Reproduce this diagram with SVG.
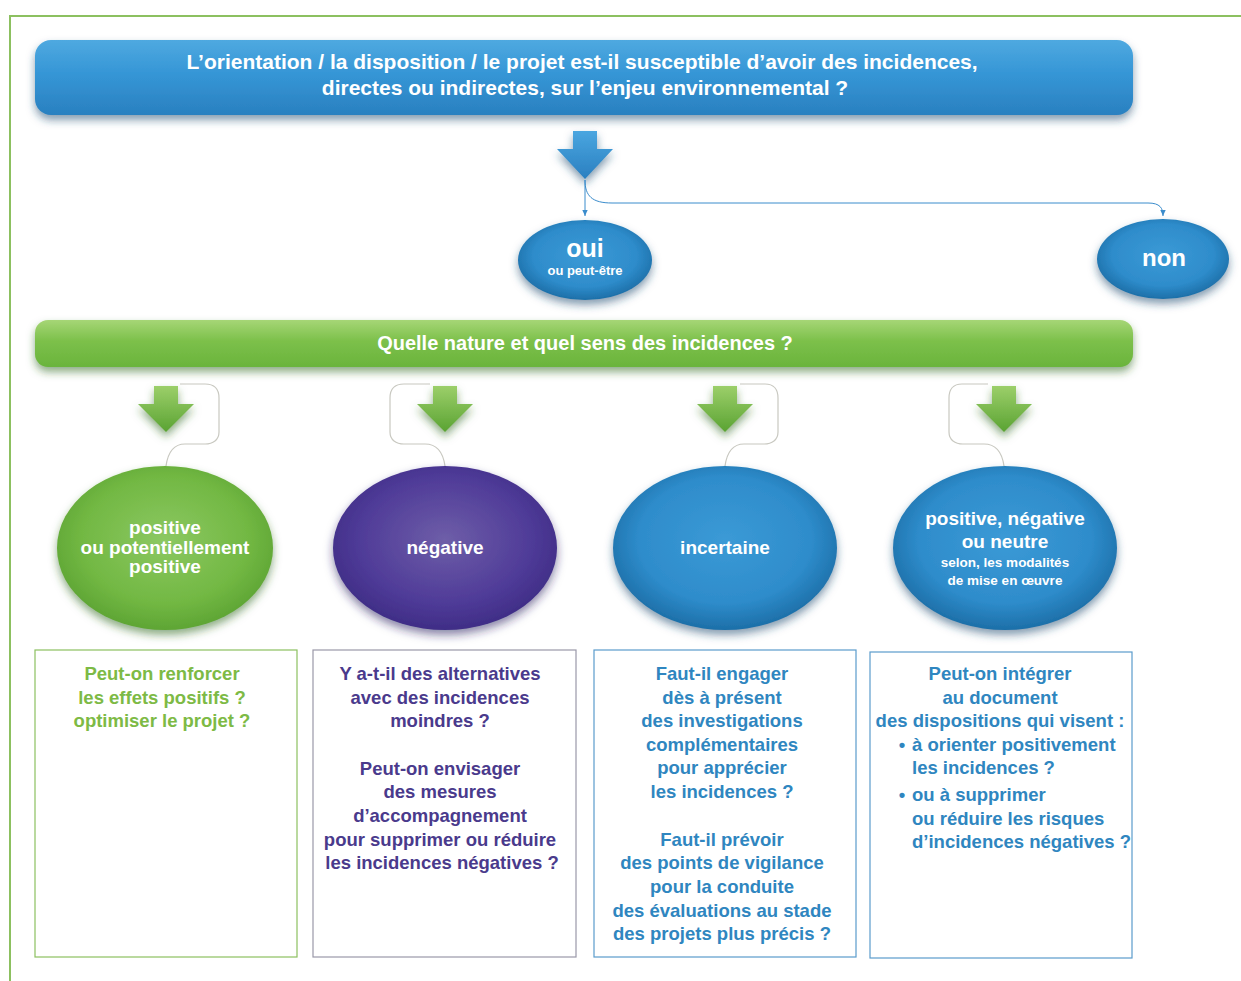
<svg xmlns="http://www.w3.org/2000/svg" width="1241" height="981" viewBox="0 0 1241 981">
<defs>
<style>
.t{font-family:"Liberation Sans Narrow","Liberation Sans",Arial,sans-serif;font-weight:bold;text-anchor:middle}
.w{fill:#ffffff}
.q{font-size:18.5px}
.g{fill:#7dba45}
.p{fill:#4a3a8c}
.b{fill:#2f86c0}
.con{fill:none;stroke:#c8c8c0;stroke-width:1.2}
.bc{fill:none;stroke:#3a8ccc;stroke-width:1}
</style>
<linearGradient id="blueBar" x1="0" y1="0" x2="0" y2="1">
<stop offset="0" stop-color="#4fa9e0"/><stop offset="0.45" stop-color="#3596d6"/><stop offset="1" stop-color="#2a80c0"/>
</linearGradient>
<linearGradient id="greenBar" x1="0" y1="0" x2="0" y2="1">
<stop offset="0" stop-color="#a6d676"/><stop offset="0.45" stop-color="#7cc04a"/><stop offset="1" stop-color="#6ab43c"/>
</linearGradient>
<radialGradient id="gBlue" cx="0.5" cy="0.45" r="0.55">
<stop offset="0" stop-color="#3b9ad6"/><stop offset="0.7" stop-color="#2e8ccb"/><stop offset="1" stop-color="#1d6fa8"/>
</radialGradient>
<radialGradient id="gGreen" cx="0.5" cy="0.45" r="0.55">
<stop offset="0" stop-color="#8cc862"/><stop offset="0.7" stop-color="#72b843"/><stop offset="1" stop-color="#5ea534"/>
</radialGradient>
<radialGradient id="gPurple" cx="0.5" cy="0.45" r="0.55">
<stop offset="0" stop-color="#6e5ea8"/><stop offset="0.7" stop-color="#4f3b98"/><stop offset="1" stop-color="#3f2d86"/>
</radialGradient>
<linearGradient id="gArrow" x1="0" y1="0" x2="0" y2="1">
<stop offset="0" stop-color="#9ccf6a"/><stop offset="1" stop-color="#5aa332"/>
</linearGradient>
<linearGradient id="bArrow" x1="0" y1="0" x2="0" y2="1">
<stop offset="0" stop-color="#4aa6e0"/><stop offset="1" stop-color="#2a7fc0"/>
</linearGradient>
<filter id="sh" x="-20%" y="-20%" width="140%" height="160%">
<feDropShadow dx="0" dy="5" stdDeviation="4" flood-color="#1a4d70" flood-opacity="0.55"/>
</filter>
<filter id="shg" x="-20%" y="-20%" width="140%" height="160%">
<feDropShadow dx="0" dy="5" stdDeviation="4" flood-color="#2f6a1a" flood-opacity="0.55"/>
</filter>
<filter id="shp" x="-20%" y="-20%" width="140%" height="160%">
<feDropShadow dx="0" dy="5" stdDeviation="5" flood-color="#2a1f60" flood-opacity="0.55"/>
</filter>
<marker id="ah" viewBox="0 0 10 10" refX="9" refY="5" markerWidth="7" markerHeight="7" orient="auto">
<path d="M0,1 L9,5 L0,9 z" fill="#3a8ccc"/>
</marker>
<path id="garrow" d="M-12,0 h24 v18 h16 l-28,28 l-28,-28 h16 z"/>
</defs>
<rect width="1241" height="981" fill="#ffffff"/>
<path d="M10,981 V16 H1241" fill="none" stroke="#8cc060" stroke-width="2"/>

<g id="top-question">
<rect x="35" y="40" width="1098" height="75" rx="16" fill="url(#blueBar)" filter="url(#sh)"/>
<text class="t w" x="582" y="69" font-size="21">L’orientation / la disposition / le projet est-il susceptible d’avoir des incidences,</text>
<text class="t w" x="585" y="95" font-size="21">directes ou indirectes, sur l’enjeu environnemental ?</text>
</g>

<g id="blue-arrow">
<path d="M573,131 h24 v18 h16 l-28,30 l-28,-30 h16 z" fill="url(#bArrow)" filter="url(#sh)"/>
</g>

<g id="connectors">
<path class="bc" d="M585,180 V216" marker-end="url(#ah)"/>
<path class="bc" d="M585,180 C585,196 592,203 612,203 H1148 C1160,203 1163,208 1163,216" marker-end="url(#ah)"/>
<path class="con" d="M180,384 H205 C215,384 219,390 219,398 V432 C219,440 213,444 205,444 H185 C174,444 168,452 166,466"/>
<path class="con" d="M430,384 H404 C394,384 390,390 390,398 V432 C390,440 396,444 404,444 H425 C436,444 443,452 445,466"/>
<path class="con" d="M740,384 H765 C774,384 778,390 778,398 V432 C778,440 772,444 764,444 H744 C733,444 727,452 725,466"/>
<path class="con" d="M988,384 H962 C953,384 949,390 949,398 V432 C949,440 955,444 963,444 H984 C995,444 1002,452 1004,466"/>
</g>

<g id="oui">
<ellipse cx="585" cy="260" rx="67" ry="40" fill="url(#gBlue)" filter="url(#sh)"/>
<text class="t w" x="585" y="257" font-size="25">oui</text>
<text class="t w" x="585" y="275" font-size="13">ou peut-être</text>
</g>
<g id="non">
<ellipse cx="1163" cy="259" rx="66" ry="40" fill="url(#gBlue)" filter="url(#sh)"/>
<text class="t w" x="1164" y="266" font-size="24">non</text>
</g>

<g id="nature-question">
<rect x="35" y="320" width="1098" height="47" rx="13" fill="url(#greenBar)" filter="url(#shg)"/>
<text class="t w" x="585" y="350" font-size="20">Quelle nature et quel sens des incidences ?</text>
</g>

<g id="green-arrows">
<use href="#garrow" x="166" y="386" fill="url(#gArrow)" filter="url(#shg)"/>
<use href="#garrow" x="445" y="386" fill="url(#gArrow)" filter="url(#shg)"/>
<use href="#garrow" x="725" y="386" fill="url(#gArrow)" filter="url(#shg)"/>
<use href="#garrow" x="1004" y="386" fill="url(#gArrow)" filter="url(#shg)"/>
</g>

<g id="positive">
<ellipse cx="165" cy="548" rx="108" ry="82" fill="url(#gGreen)" filter="url(#shg)"/>
<text class="t w" x="165" y="534" font-size="19">positive</text>
<text class="t w" x="165" y="554" font-size="19">ou potentiellement</text>
<text class="t w" x="165" y="573" font-size="19">positive</text>
</g>
<g id="negative">
<ellipse cx="445" cy="548" rx="112" ry="82" fill="url(#gPurple)" filter="url(#shp)"/>
<text class="t w" x="445" y="554" font-size="19">négative</text>
</g>
<g id="incertaine">
<ellipse cx="725" cy="548" rx="112" ry="82" fill="url(#gBlue)" filter="url(#sh)"/>
<text class="t w" x="725" y="554" font-size="19">incertaine</text>
</g>
<g id="mixte">
<ellipse cx="1005" cy="548" rx="112" ry="82" fill="url(#gBlue)" filter="url(#sh)"/>
<text class="t w" x="1005" y="525" font-size="19">positive, négative</text>
<text class="t w" x="1005" y="548" font-size="19">ou neutre</text>
<text class="t w" x="1005" y="567" font-size="13.5">selon, les modalités</text>
<text class="t w" x="1005" y="585" font-size="13.5">de mise en œuvre</text>
</g>

<g id="box-positive">
<rect x="35" y="650" width="262" height="307" fill="#ffffff" stroke="#8cc060" stroke-width="1.2"/>
<text class="t q g" x="162" y="680">Peut-on renforcer</text>
<text class="t q g" x="162" y="704">les effets positifs ?</text>
<text class="t q g" x="162" y="727">optimiser le projet ?</text>
</g>
<g id="box-negative">
<rect x="313" y="650" width="263" height="307" fill="#ffffff" stroke="#9a98a8" stroke-width="1.2"/>
<text class="t q p" x="440" y="680">Y a-t-il des alternatives</text>
<text class="t q p" x="440" y="704">avec des incidences</text>
<text class="t q p" x="440" y="727">moindres ?</text>
<text class="t q p" x="440" y="775">Peut-on envisager</text>
<text class="t q p" x="440" y="798">des mesures</text>
<text class="t q p" x="440" y="822">d’accompagnement</text>
<text class="t q p" x="440" y="846">pour supprimer ou réduire</text>
<text class="t q p" x="442" y="869">les incidences négatives ?</text>
</g>
<g id="box-incertaine">
<rect x="594" y="650" width="262" height="307" fill="#ffffff" stroke="#5b9ccc" stroke-width="1.2"/>
<text class="t q b" x="722" y="680">Faut-il engager</text>
<text class="t q b" x="722" y="704">dès à présent</text>
<text class="t q b" x="722" y="727">des investigations</text>
<text class="t q b" x="722" y="751">complémentaires</text>
<text class="t q b" x="722" y="774">pour apprécier</text>
<text class="t q b" x="722" y="798">les incidences ?</text>
<text class="t q b" x="722" y="846">Faut-il prévoir</text>
<text class="t q b" x="722" y="869">des points de vigilance</text>
<text class="t q b" x="722" y="893">pour la conduite</text>
<text class="t q b" x="722" y="917">des évaluations au stade</text>
<text class="t q b" x="722" y="940">des projets plus précis ?</text>
</g>
<g id="box-mixte">
<rect x="870" y="652" width="262" height="306" fill="#ffffff" stroke="#5b9ccc" stroke-width="1.2"/>
<text class="t q b" x="1000" y="680">Peut-on intégrer</text>
<text class="t q b" x="1000" y="704">au document</text>
<text class="t q b" x="1000" y="727">des dispositions qui visent :</text>
<text class="t q b" x="902" y="751" style="text-anchor:middle">•</text>
<text class="t q b" x="912" y="751" style="text-anchor:start">à orienter positivement</text>
<text class="t q b" x="912" y="774" style="text-anchor:start">les incidences ?</text>
<text class="t q b" x="902" y="801" style="text-anchor:middle">•</text>
<text class="t q b" x="912" y="801" style="text-anchor:start">ou à supprimer</text>
<text class="t q b" x="912" y="825" style="text-anchor:start">ou réduire les risques</text>
<text class="t q b" x="912" y="848" style="text-anchor:start">d’incidences négatives ?</text>
</g>
</svg>
